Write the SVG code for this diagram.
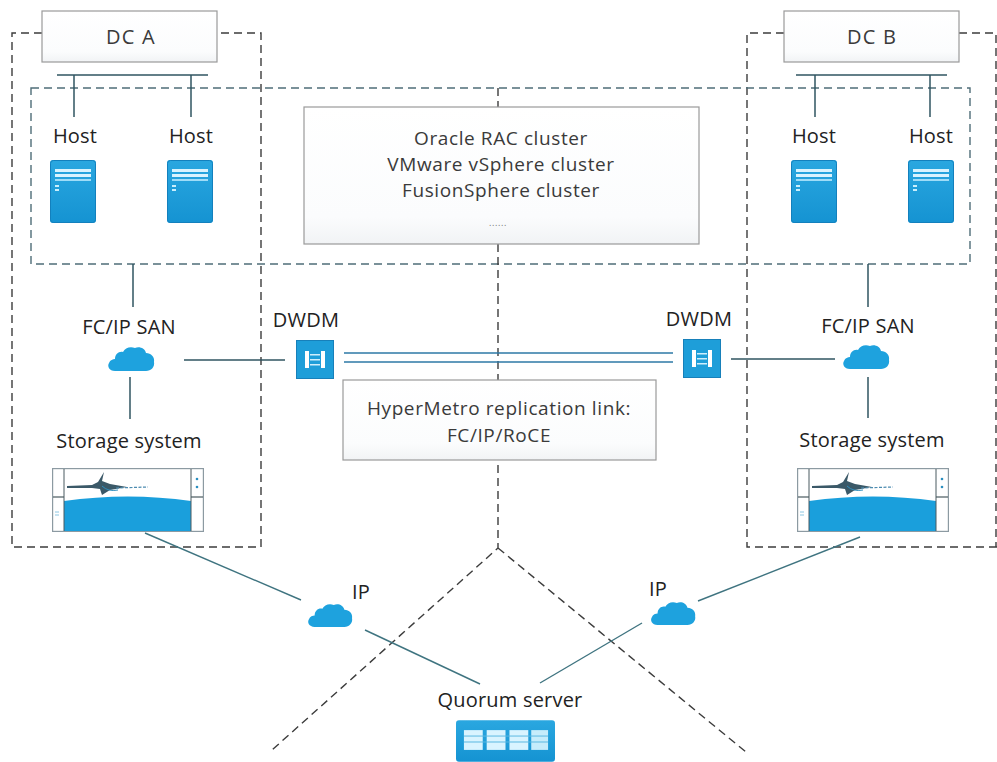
<svg xmlns="http://www.w3.org/2000/svg" width="997" height="762" viewBox="0 0 997 762">
  <defs>
    <style>
      .lbl { font-family: "Open Sans", "Noto Sans", "DejaVu Sans", sans-serif; font-size: 20px; letter-spacing: 0.2px; fill: #222; text-anchor: middle; }
      .boxtxt { font-family: "Open Sans", "Noto Sans", "DejaVu Sans", sans-serif; font-size: 19px; letter-spacing: 0.6px; fill: #3a3a3a; text-anchor: middle; }
      .dc { fill: url(#boxfill); stroke: #9a9a9a; stroke-width: 1.2; }
      .zone { fill: none; stroke: #3c3c3c; stroke-width: 1.4; stroke-dasharray: 8 5; }
      .zone2 { fill: none; stroke: #4f6d78; stroke-width: 1.4; stroke-dasharray: 8 5; }
      .link { fill: none; stroke: #2f5560; stroke-width: 1.5; }
      .ipl { fill: none; stroke: #3f7480; stroke-width: 1.4; }
      .fiber { fill: none; stroke: #2d78a6; stroke-width: 1.4; }
    </style>
    <linearGradient id="boxfill" x1="0" y1="0" x2="0" y2="1">
      <stop offset="0" stop-color="#ffffff"/>
      <stop offset="0.8" stop-color="#fbfcfd"/>
      <stop offset="1" stop-color="#f1f3f5"/>
    </linearGradient>
    <linearGradient id="blue" x1="0" y1="0" x2="0" y2="1">
      <stop offset="0" stop-color="#2aa7e0"/>
      <stop offset="1" stop-color="#1593d2"/>
    </linearGradient>
    <!-- cloud icon, 48 x 27 -->
    <symbol id="cloud" viewBox="0 0 48 27">
      <path d="M8 26 C2 26 0 21 2 18 C3 15 6 14 8 14 C8 9 12 6 16 7 C18 3 23 1 28 3 C32 1 38 3 39 8 C44 8 48 12 47 17 C48 22 44 26 39 26 Z" fill="#1ea2de"/>
    </symbol>
    <!-- rack server icon -->
    <symbol id="server" viewBox="0 0 46 63">
      <rect x="0" y="0" width="46" height="63" rx="3" fill="url(#blue)"/>
      <rect x="0.5" y="0.5" width="45" height="62" rx="3" fill="none" stroke="#1380bd" stroke-width="1"/>
      <rect x="5" y="9" width="36" height="3" fill="#d8f3ff"/>
      <rect x="5" y="14" width="36" height="3" fill="#d8f3ff"/>
      <rect x="5" y="19" width="36" height="2" fill="#9fdcf7"/>
      <rect x="5" y="25" width="4" height="2" fill="#c9eefc"/>
      <rect x="5" y="29" width="4" height="2" fill="#c9eefc"/>
    </symbol>
    <!-- DWDM icon -->
    <symbol id="dwdm" viewBox="0 0 38 39">
      <rect x="0" y="0" width="38" height="39" fill="#1e9ed9"/>
      <rect x="0.5" y="0.5" width="37" height="38" fill="none" stroke="#1780ba"/>
      <rect x="9" y="11" width="4" height="17" fill="#ffffff"/>
      <rect x="25" y="11" width="4" height="17" fill="#ffffff"/>
      <rect x="14" y="14" width="10" height="1.5" fill="#cfeefc"/>
      <rect x="14" y="19" width="10" height="1.5" fill="#cfeefc"/>
      <rect x="14" y="24" width="10" height="1.5" fill="#cfeefc"/>
    </symbol>
    <!-- disk array icon -->
    <symbol id="storage" viewBox="0 0 152 64">
      <rect x="0.6" y="0.6" width="150.8" height="62.8" fill="#ffffff" stroke="#8c9aa2" stroke-width="1.2"/>
      <path d="M12 33 Q76 24 139 33 L139 63 L12 63 Z" fill="#1a9fdc"/>
      <line x1="12" y1="1" x2="12" y2="63" stroke="#4a5a60" stroke-width="1"/>
      <line x1="139" y1="1" x2="139" y2="63" stroke="#4a5a60" stroke-width="1"/>
      <line x1="1" y1="29" x2="12" y2="29" stroke="#4a5a60" stroke-width="1.2"/>
      <line x1="139" y1="29" x2="151" y2="29" stroke="#4a5a60" stroke-width="1.2"/>
      <circle cx="145" cy="11" r="1.3" fill="#2b8fc0"/>
      <circle cx="145" cy="19" r="1.3" fill="#2b8fc0"/>
      <path d="M3 44 L7 44 M3 47 L7 47" stroke="#6fb7da" stroke-width="0.8"/>
      <!-- marlin logo -->
      <path d="M15 18 L40 17 L46 14 L52 4 L50 13 L58 16 L75 19 L58 22 L50 27 L48 21 L40 20 L15 20 Z" fill="#3b5968"/>
      <path d="M50 18 Q56 24 66 22" fill="none" stroke="#2e8dbd" stroke-width="1"/>
      <path d="M64 20 L96 19" stroke="#4c8bb0" stroke-width="1.2" stroke-dasharray="3 1.5"/>
    </symbol>
    <!-- quorum server icon -->
    <symbol id="quorum" viewBox="0 0 100 42">
      <rect x="0" y="0" width="100" height="42" rx="3" fill="url(#blue)"/>
      <g fill="#d9f4ff">
        <rect x="8" y="10" width="19" height="20"/>
        <rect x="31" y="10" width="19" height="20"/>
        <rect x="54" y="10" width="19" height="20"/>
        <rect x="76" y="10" width="17" height="20" fill="#c6ecfb"/>
      </g>
      <g stroke="#5ab8e2" stroke-width="1">
        <line x1="8" y1="16" x2="93" y2="16"/>
        <line x1="8" y1="22" x2="93" y2="22"/>
      </g>
    </symbol>
  </defs>

  <rect width="997" height="762" fill="#ffffff"/>

  <!-- site and cluster zones -->
  <g id="zones">
    <path class="zone" d="M42 33 H12 V547 H261 V33 H217"/>
    <path class="zone" d="M784 33 H747 V547 H997 M959 33 H996 V547"/>
    <rect class="zone2" x="31" y="88" width="939" height="176"/>
    <path class="zone" d="M498 88 V548 L272 750 M498 548 L746 752"/>
  </g>

  <!-- connectors -->
  <g id="connectors">
    <line class="link" x1="57" y1="75" x2="208" y2="75"/>
    <line class="link" x1="74" y1="75" x2="74" y2="117"/>
    <line class="link" x1="191" y1="75" x2="191" y2="117"/>
    <line class="link" x1="796" y1="75" x2="947" y2="75"/>
    <line class="link" x1="815" y1="75" x2="815" y2="117"/>
    <line class="link" x1="930" y1="75" x2="930" y2="117"/>
    <line class="link" x1="133" y1="264" x2="133" y2="307"/>
    <line class="link" x1="868" y1="264" x2="868" y2="307"/>
    <line class="link" x1="130" y1="377" x2="130" y2="419"/>
    <line class="link" x1="868" y1="377" x2="868" y2="418"/>
    <line class="link" x1="184" y1="360" x2="285" y2="360"/>
    <line class="link" x1="731" y1="359" x2="835" y2="359"/>
    <line class="fiber" x1="344" y1="353" x2="673" y2="353"/>
    <line class="fiber" x1="344" y1="362" x2="673" y2="362"/>
    <line class="ipl" x1="145" y1="533" x2="301" y2="600"/>
    <line class="ipl" x1="365" y1="630" x2="480" y2="684"/>
    <line class="ipl" x1="698" y1="601" x2="860" y2="537"/>
    <line class="ipl" x1="642" y1="623" x2="540" y2="683"/>
  </g>

  <g id="dc-a">
    <rect class="dc" x="42" y="11" width="175" height="51"/>
    <text class="boxtxt" x="131" y="44" style="font-size:20px;letter-spacing:1.2px">DC A</text>
  </g>
  <g id="dc-b">
    <rect class="dc" x="784" y="11" width="175" height="51"/>
    <text class="boxtxt" x="872" y="44" style="font-size:20px;letter-spacing:1.2px">DC B</text>
  </g>

  <g id="host-a1">
    <text class="lbl" x="75" y="143">Host</text>
    <use href="#server" x="50" y="160" width="46" height="63"/>
  </g>
  <g id="host-a2">
    <text class="lbl" x="191" y="143">Host</text>
    <use href="#server" x="167" y="160" width="46" height="63"/>
  </g>
  <g id="host-b1">
    <text class="lbl" x="814" y="143">Host</text>
    <use href="#server" x="791" y="160" width="46" height="63"/>
  </g>
  <g id="host-b2">
    <text class="lbl" x="931" y="143">Host</text>
    <use href="#server" x="908" y="160" width="46" height="63"/>
  </g>

  <g id="cluster">
    <rect class="dc" x="304" y="107" width="395" height="137"/>
    <text class="boxtxt" x="501" y="145">Oracle RAC cluster</text>
    <text class="boxtxt" x="501" y="171">VMware vSphere cluster</text>
    <text class="boxtxt" x="501" y="197">FusionSphere cluster</text>
    <text class="boxtxt" x="498" y="226" style="font-size:9px;fill:#777">......</text>
  </g>

  <g id="san-a">
    <text class="lbl" x="129" y="334">FC/IP SAN</text>
    <use href="#cloud" x="107" y="345" width="48" height="27"/>
  </g>
  <g id="san-b">
    <text class="lbl" x="868" y="333">FC/IP SAN</text>
    <use href="#cloud" x="842" y="343" width="48" height="27"/>
  </g>

  <g id="dwdm-a">
    <text class="lbl" x="306" y="327">DWDM</text>
    <use href="#dwdm" x="296" y="340" width="38" height="39"/>
  </g>
  <g id="dwdm-b">
    <text class="lbl" x="699" y="326">DWDM</text>
    <use href="#dwdm" x="683" y="339" width="38" height="39"/>
  </g>

  <g id="replication-link">
    <rect class="dc" x="343" y="380" width="313" height="80"/>
    <text class="boxtxt" x="499" y="415">HyperMetro replication link:</text>
    <text class="boxtxt" x="499" y="442">FC/IP/RoCE</text>
  </g>

  <g id="storage-a">
    <text class="lbl" x="129" y="448">Storage system</text>
    <use href="#storage" x="52" y="468" width="152" height="64"/>
  </g>
  <g id="storage-b">
    <text class="lbl" x="872" y="447">Storage system</text>
    <use href="#storage" x="797" y="468" width="152" height="64"/>
  </g>

  <g id="ip-a">
    <text class="lbl" x="361" y="599">IP</text>
    <use href="#cloud" x="307" y="602" width="46" height="26"/>
  </g>
  <g id="ip-b">
    <text class="lbl" x="658" y="596">IP</text>
    <use href="#cloud" x="649" y="600" width="48" height="26"/>
  </g>

  <g id="quorum-server">
    <text class="lbl" x="510" y="707">Quorum server</text>
    <use href="#quorum" x="456" y="720" width="99" height="42"/>
  </g>
</svg>
